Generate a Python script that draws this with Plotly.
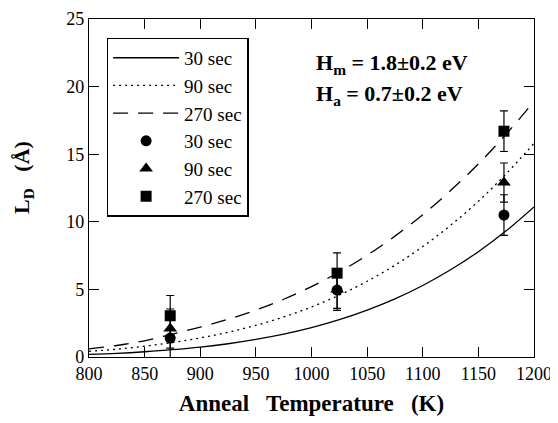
import plotly.graph_objects as go

# fitted curves
T_fit = [800, 825, 850, 875, 900, 925, 950, 975, 1000, 1025, 1050, 1075, 1100, 1125, 1150, 1175, 1200]
L_30 = [0.19, 0.27, 0.39, 0.54, 0.73, 0.98, 1.30, 1.69, 2.17, 2.76, 3.47, 4.30, 5.29, 6.45, 7.79, 9.33, 11.1]
L_90 = [0.42, 0.58, 0.80, 1.07, 1.41, 1.83, 2.34, 2.96, 3.70, 4.58, 5.60, 6.79, 8.17, 9.74, 11.52, 13.55, 15.8]
L_270 = [0.60, 0.85, 1.20, 1.70, 2.21, 2.79, 3.47, 4.27, 5.21, 6.29, 7.53, 8.94, 10.52, 12.31, 14.28, 16.48, 18.9]

# measured points
T_meas = [873, 1023, 1173]
M_30 = [1.4, 4.95, 10.5]
E_30 = [1.5, 1.5, 1.5]
M_90 = [2.1, 5.0, 12.9]
E_90 = [1.45, 1.4, 1.45]
M_270 = [3.05, 6.2, 16.7]
E_270 = [1.5, 1.5, 1.5]

FONT = "Liberation Serif, serif"
fig = go.Figure()

line_w = 1.3
fig.add_trace(go.Scatter(x=T_fit, y=L_30, mode="lines", name="30 sec",
                         line=dict(color="black", width=line_w, shape="spline")))
fig.add_trace(go.Scatter(x=T_fit, y=L_90, mode="lines", name="90 sec",
                         line=dict(color="black", width=line_w, dash="2px,4px", shape="spline")))
fig.add_trace(go.Scatter(x=T_fit, y=L_270, mode="lines", name="270 sec",
                         line=dict(color="black", width=line_w, dash="15px,10px", shape="spline")))

err_style = dict(type="data", visible=True, color="black", thickness=1.2, width=4)
fig.add_trace(go.Scatter(x=T_meas, y=M_30, mode="markers", name="30 sec",
                         marker=dict(symbol="circle", size=11, color="black"),
                         error_y=dict(array=E_30, **err_style)))
fig.add_trace(go.Scatter(x=T_meas, y=M_90, mode="markers", name="90 sec",
                         marker=dict(symbol="triangle-up", size=12, color="black"),
                         error_y=dict(array=E_90, **err_style)))
fig.add_trace(go.Scatter(x=T_meas, y=M_270, mode="markers", name="270 sec",
                         marker=dict(symbol="square", size=11, color="black"),
                         error_y=dict(array=E_270, **err_style)))

axis_common = dict(showline=True, linecolor="black", linewidth=1.3, mirror="ticks",
                   ticks="inside", ticklen=10, tickcolor="black", tickwidth=1.2,
                   showgrid=False, zeroline=False, automargin=False,
                   tickfont=dict(family=FONT, size=18, color="black"))

fig.update_xaxes(range=[800, 1200], tickvals=[800, 850, 900, 950, 1000, 1050, 1100, 1150, 1200],
                 title=dict(text="<b>Anneal   Temperature   (K)</b>", font=dict(family=FONT, size=23, color="black"),
                            standoff=12),
                 **axis_common)
fig.update_yaxes(range=[0, 25], tickvals=[0, 5, 10, 15, 20, 25], **axis_common)

# y-axis title
fig.add_annotation(x=-0.148, y=0.53, xref="paper", yref="paper", xanchor="center", yanchor="middle",
                   text="<b>L<sub>D</sub>   (Å)</b>", showarrow=False, textangle=-90,
                   font=dict(family=FONT, size=22, color="black"))

fig.add_annotation(x=0.505, y=0.868, xref="paper", yref="paper", xanchor="left", yanchor="middle",
                   text="<b>H<sub>m</sub> = 1.8±0.2 eV</b>", showarrow=False,
                   font=dict(family=FONT, size=22, color="black"))
fig.add_annotation(x=0.505, y=0.775, xref="paper", yref="paper", xanchor="left", yanchor="middle",
                   text="<b>H<sub>a</sub> = 0.7±0.2 eV</b>", showarrow=False,
                   font=dict(family=FONT, size=22, color="black"))

fig.update_layout(
    width=550, height=415,
    margin=dict(l=81, r=24, t=11, b=66),
    paper_bgcolor="white", plot_bgcolor="white",
    showlegend=True,
    legend=dict(x=0.04, y=0.945, xanchor="left", yanchor="top",
                bgcolor="white", bordercolor="black", borderwidth=1.3,
                font=dict(family=FONT, size=19, color="black"),
                itemwidth=66, tracegroupgap=0),
)

fig.write_html("out.html")
